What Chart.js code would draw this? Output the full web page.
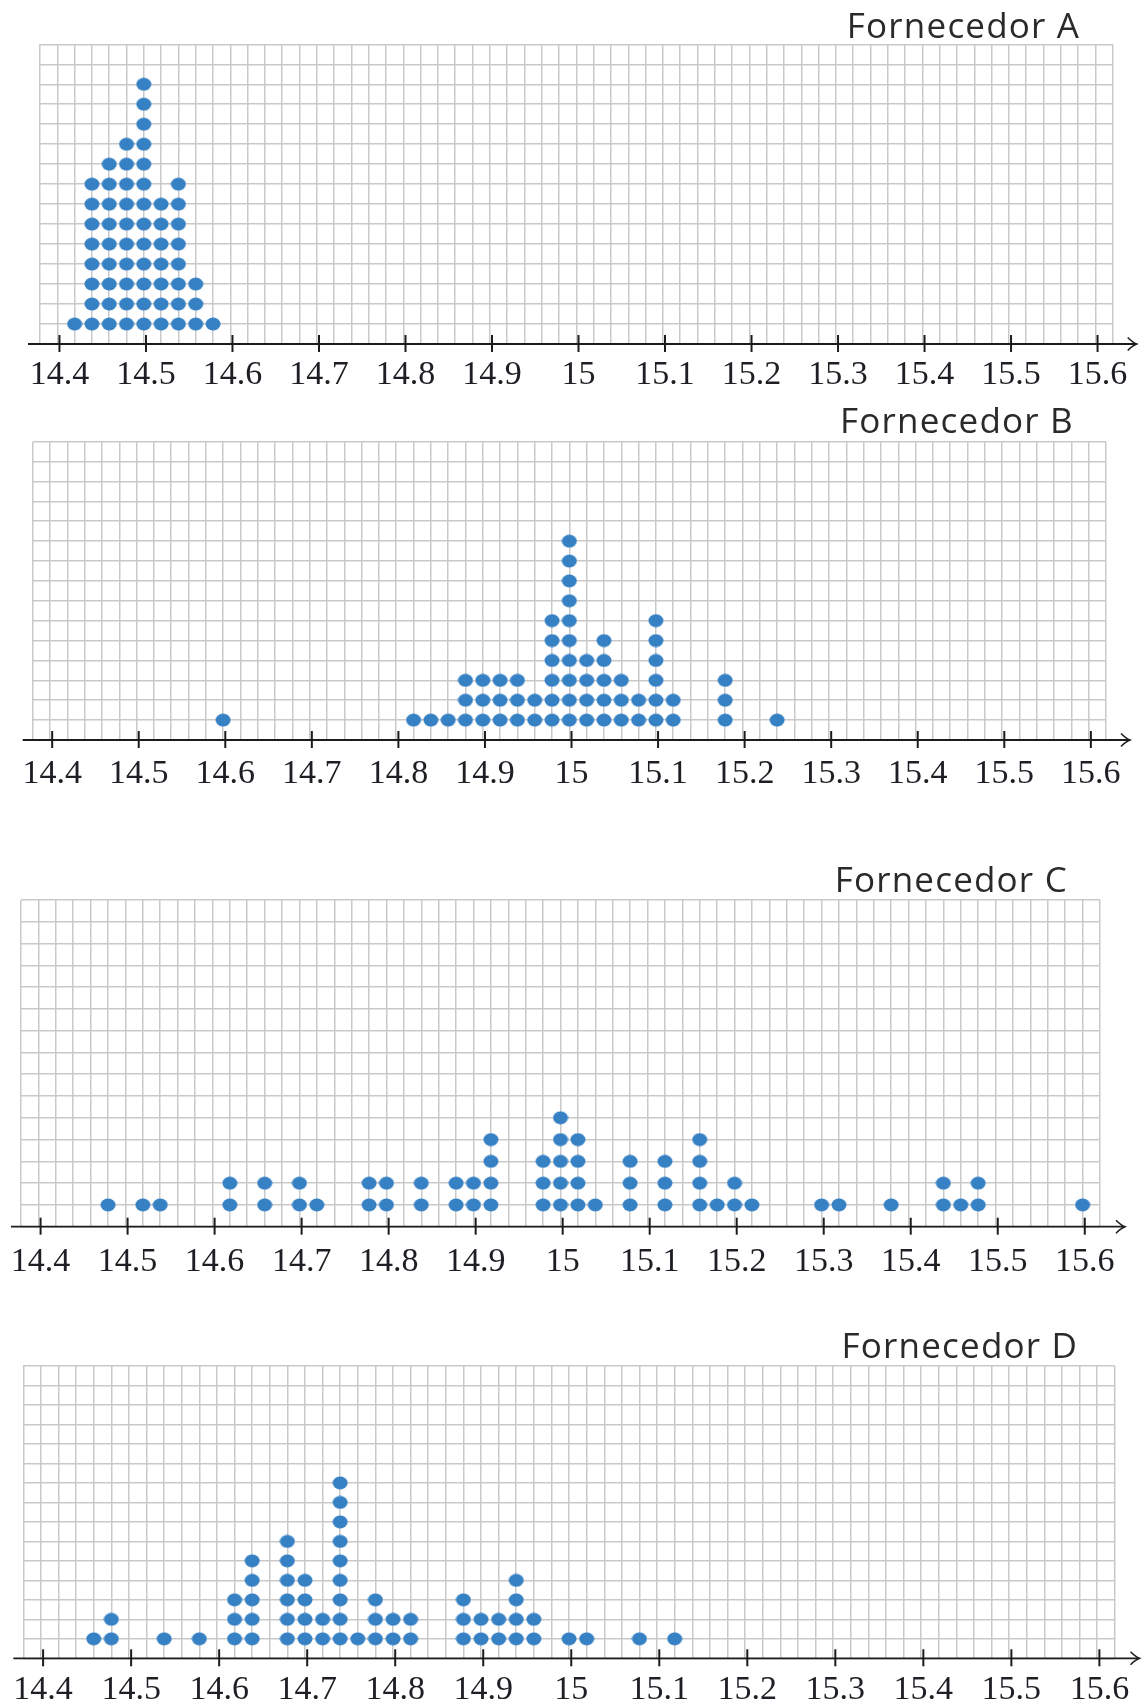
<!DOCTYPE html>
<html lang="pt">
<head>
<meta charset="utf-8">
<title>Diâmetros das peças por fornecedor</title>
<script src="https://cdn.jsdelivr.net/npm/chart.js@4/dist/chart.umd.min.js"></script>
<style>
  html, body { margin: 0; padding: 0; background: #ffffff; }
  body { width: 1142px; height: 1706px; position: relative; overflow: hidden; }
  .painel { position: absolute; left: 0; width: 1142px; }
  .painel canvas { display: block; }
</style>
</head>
<body>
<div class="painel" style="top:0px"><canvas id="graficoA" width="1142" height="400"></canvas></div>
<div class="painel" style="top:400px"><canvas id="graficoB" width="1142" height="400"></canvas></div>
<div class="painel" style="top:840px"><canvas id="graficoC" width="1142" height="440"></canvas></div>
<div class="painel" style="top:1300px"><canvas id="graficoD" width="1142" height="406"></canvas></div>
<script>
// Medidas registradas (valor) e quantas peças tiveram cada medida (contagem)
const valoresA = [14.42, 14.44, 14.46, 14.48, 14.50, 14.52, 14.54, 14.56, 14.58];
const contagensA = [1, 8, 9, 10, 13, 7, 8, 3, 1];

const valoresB = [14.60, 14.82, 14.84, 14.86, 14.88, 14.90, 14.92, 14.94, 14.96, 14.98,
                  15.00, 15.02, 15.04, 15.06, 15.08, 15.10, 15.12, 15.18, 15.24];
const contagensB = [1, 1, 1, 1, 3, 3, 3, 3, 2, 6, 10, 4, 5, 3, 2, 6, 2, 3, 1];

const valoresC = [14.48, 14.52, 14.54, 14.62, 14.66, 14.70, 14.72, 14.78, 14.80, 14.84,
                  14.88, 14.90, 14.92, 14.98, 15.00, 15.02, 15.04, 15.08, 15.12, 15.16,
                  15.18, 15.20, 15.22, 15.30, 15.32, 15.38, 15.44, 15.46, 15.48, 15.60];
const contagensC = [1, 1, 1, 2, 2, 2, 1, 2, 2, 2,
                    2, 2, 4, 3, 5, 4, 1, 3, 3, 4,
                    1, 2, 1, 1, 1, 1, 2, 1, 2, 1];

const valoresD = [14.46, 14.48, 14.54, 14.58, 14.62, 14.64, 14.68, 14.70, 14.72, 14.74,
                  14.76, 14.78, 14.80, 14.82, 14.88, 14.90, 14.92, 14.94, 14.96, 15.00,
                  15.02, 15.08, 15.12];
const contagensD = [1, 2, 1, 1, 3, 5, 6, 4, 2, 9,
                    1, 3, 2, 2, 3, 2, 2, 4, 2, 1,
                    1, 1, 1];

// Marcas e rótulos da reta numérica
const valoresEixo = [14.4, 14.5, 14.6, 14.7, 14.8, 14.9, 15.0, 15.1, 15.2, 15.3, 15.4, 15.5, 15.6];
const rotulosEixo = ['14.4', '14.5', '14.6', '14.7', '14.8', '14.9', '15', '15.1', '15.2', '15.3', '15.4', '15.5', '15.6'];

const titulos = ['Fornecedor A', 'Fornecedor B', 'Fornecedor C', 'Fornecedor D'];

// Faixa do papel quadriculado: uma coluna a cada 0,02 e 15 linhas
const gradeMin = 14.38, gradeMax = 15.62, passoGrade = 0.02, linhasGrade = 15;

// Posição de cada painel na página (px)
const paineis = [
  { id: 'graficoA', topo: 0,    altura: 400, esq: 40,   dir: 1112.7, gradeTopo: 44.3,   eixoY: 344,    inicioEixo: 28,   pontaSeta: 1136.7, tituloDir: 1079,   tituloBase: 38,     folgaRotulo: 11 },
  { id: 'graficoB', topo: 400,  altura: 400, esq: 32.7, dir: 1106,   gradeTopo: 441.7,  eixoY: 740,    inicioEixo: 22.7, pontaSeta: 1130,   tituloDir: 1072.7, tituloBase: 433.3,  folgaRotulo: 13.6 },
  { id: 'graficoC', topo: 840,  altura: 440, esq: 21,   dir: 1100,   gradeTopo: 900,    eixoY: 1226.7, inicioEixo: 11,   pontaSeta: 1125,   tituloDir: 1066.7, tituloBase: 891.7,  folgaRotulo: 15.4 },
  { id: 'graficoD', topo: 1300, altura: 406, esq: 23.3, dir: 1114.8, gradeTopo: 1366,   eixoY: 1658.3, inicioEixo: 13.3, pontaSeta: 1139.5, tituloDir: 1077,   tituloBase: 1357.5, folgaRotulo: 11.6 }
];

const series = [
  [valoresA, contagensA],
  [valoresB, contagensB],
  [valoresC, contagensC],
  [valoresD, contagensD]
];

// Valores das linhas verticais do quadriculado
const colunasGrade = [];
for (let k = 0; Math.round((gradeMin + k * passoGrade) * 100) / 100 <= gradeMax; k++) {
  colunasGrade.push(Math.round((gradeMin + k * passoGrade) * 100) / 100);
}

// Ponto azul levemente ovalado
function criarPonto() {
  const c = document.createElement('canvas');
  c.width = 16; c.height = 14;
  const g = c.getContext('2d');
  g.fillStyle = '#3680c4';
  g.beginPath();
  g.ellipse(8, 7, 7.5, 6.5, 0, 0, Math.PI * 2);
  g.fill();
  return c;
}
const pontoAzul = criarPonto();

// Empilha um ponto por peça sobre cada valor medido
function empilhar(valores, contagens) {
  const pts = [];
  valores.forEach((v, i) => {
    for (let n = 1; n <= contagens[i]; n++) pts.push({ x: v, y: n });
  });
  return pts;
}

// Reta numérica com seta, marcas das divisões e título do painel
const retaNumerica = {
  id: 'retaNumerica',
  afterDraw(chart, args, o) {
    const ctx = chart.ctx;
    const y = chart.scales.y.getPixelForValue(0);
    ctx.save();
    ctx.strokeStyle = '#1c1c1c';
    ctx.lineWidth = 1.8;
    ctx.lineCap = 'butt';
    ctx.beginPath();
    ctx.moveTo(o.inicio, y);
    ctx.lineTo(o.ponta - 1, y);
    ctx.stroke();
    // ponta da seta
    ctx.lineWidth = 1.5;
    ctx.beginPath();
    ctx.moveTo(o.ponta - 9, y - 6.5);
    ctx.quadraticCurveTo(o.ponta - 4, y - 1.5, o.ponta, y);
    ctx.quadraticCurveTo(o.ponta - 4, y + 1.5, o.ponta - 9, y + 6.5);
    ctx.stroke();
    // marcas das divisões
    ctx.lineWidth = 2;
    const eixo = chart.scales.eixo;
    eixo.ticks.forEach(t => {
      const px = eixo.getPixelForValue(t.value);
      ctx.beginPath();
      ctx.moveTo(px, y - 9);
      ctx.lineTo(px, y + 8);
      ctx.stroke();
    });
    // título
    ctx.fillStyle = '#2a2a2a';
    ctx.font = '35px "Open Sans"';
    ctx.letterSpacing = '1.2px';
    ctx.textAlign = 'right';
    ctx.textBaseline = 'alphabetic';
    ctx.fillText(o.titulo, o.tituloX + 1.2, o.tituloY);
    ctx.restore();
  }
};

function zerarTamanho(s) {
  if (s.isHorizontal()) { s.height = 0; } else { s.width = 0; }
  s.paddingLeft = 0; s.paddingRight = 0; s.paddingTop = 0; s.paddingBottom = 0;
}

paineis.forEach((p, idx) => {
  const [valores, contagens] = series[idx];
  const faixaRotulos = p.topo + p.altura - p.eixoY;
  new Chart(document.getElementById(p.id), {
    type: 'scatter',
    data: {
      datasets: [{
        label: titulos[idx],
        data: empilhar(valores, contagens),
        pointStyle: pontoAzul,
        pointRadius: 7,
        pointHoverRadius: 7,
        backgroundColor: '#3680c4',
        borderWidth: 0
      }]
    },
    options: {
      responsive: false,
      animation: false,
      events: [],
      layout: {
        padding: {
          left: p.esq,
          right: 1142 - p.dir,
          top: p.gradeTopo - p.topo,
          bottom: 0
        }
      },
      plugins: {
        legend: { display: false },
        tooltip: { enabled: false },
        title: { display: false },
        retaNumerica: {
          inicio: p.inicioEixo,
          ponta: p.pontaSeta,
          titulo: titulos[idx],
          tituloX: p.tituloDir,
          tituloY: p.tituloBase - p.topo
        }
      },
      scales: {
        x: {
          type: 'linear',
          position: 'bottom',
          min: gradeMin,
          max: gradeMax,
          afterBuildTicks: s => { s.ticks = colunasGrade.map(v => ({ value: v })); },
          ticks: { display: false },
          grid: { color: '#c9c9c9', lineWidth: 1.5, drawTicks: false },
          border: { display: false },
          afterFit: zerarTamanho
        },
        eixo: {
          type: 'linear',
          position: 'bottom',
          min: gradeMin - 0.0025,
          max: gradeMax - 0.0025,
          afterBuildTicks: s => { s.ticks = valoresEixo.map(v => ({ value: v })); },
          ticks: {
            autoSkip: false,
            maxRotation: 0,
            padding: p.folgaRotulo,
            color: '#1e1e24',
            font: { family: '"Liberation Serif"', size: 34 },
            callback: (v, i) => rotulosEixo[i]
          },
          grid: { display: false, drawTicks: false },
          border: { display: false },
          afterFit: s => {
            s.height = faixaRotulos;
            s.paddingLeft = 0; s.paddingRight = 0; s.paddingTop = 0; s.paddingBottom = 0;
          }
        },
        y: {
          type: 'linear',
          min: 0,
          max: linhasGrade,
          ticks: { display: false, stepSize: 1 },
          grid: { color: '#c9c9c9', lineWidth: 1.5, drawTicks: false },
          border: { display: false },
          afterFit: zerarTamanho
        }
      }
    },
    plugins: [retaNumerica]
  });
});
</script>
</body>
</html>
